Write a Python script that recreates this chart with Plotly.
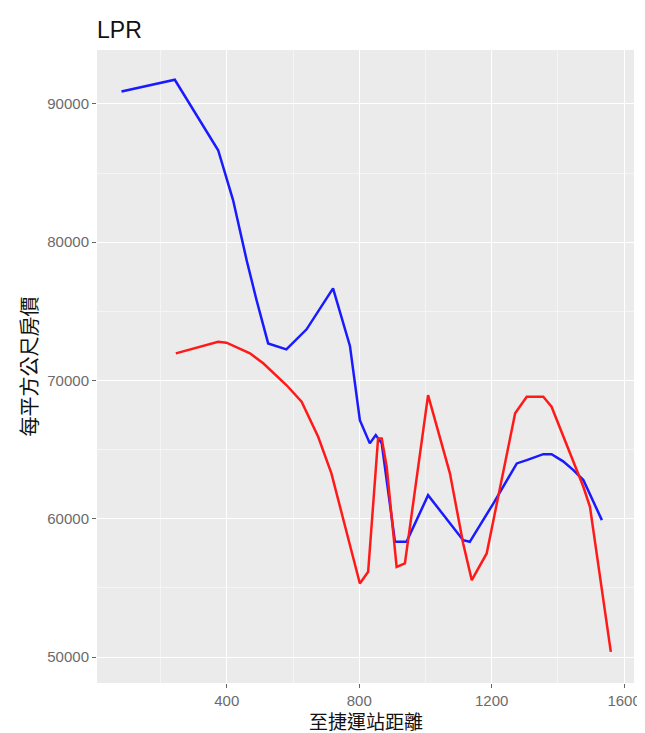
import plotly.graph_objects as go

# Blue series (distance, price)
blue_x = [82, 243, 374, 419, 460, 490, 525, 580, 641, 721, 772, 802, 832, 850, 868,
          908, 943, 1008, 1114, 1134, 1205, 1276, 1306, 1356, 1381, 1416, 1447, 1477, 1533]
blue_y = [90900, 91750, 86650, 83050, 78700, 75800, 72680, 72250, 73700, 76660, 72500,
          67130, 65450, 66050, 65450, 58330, 58330, 61700, 58450, 58330, 61100, 64000,
          64240, 64670, 64670, 64150, 63520, 62800, 59900]

# Red series
red_x = [246, 374, 399, 470, 510, 580, 626, 676, 716, 802, 827, 857, 868, 883, 913, 938,
         1008, 1074, 1114, 1140, 1185, 1271, 1306, 1356, 1381, 1477, 1497, 1560]
red_y = [71960, 72800, 72730, 71960, 71240, 69670, 68460, 65930, 63280, 55320, 56160,
         65810, 65810, 63760, 56520, 56770, 68940, 63280, 58210, 55560, 57490, 67620,
         68820, 68820, 68100, 62310, 60860, 50370]

x_ticks = [400, 800, 1200, 1600]
x_labels = ["400", "800", "1200", "1600"]
y_ticks = [50000, 60000, 70000, 80000, 90000]
y_labels = ["50000", "60000", "70000", "80000", "90000"]

fig = go.Figure()
fig.add_trace(go.Scatter(x=blue_x, y=blue_y, mode="lines",
                         line=dict(color="#1a1aff", width=2.5), showlegend=False))
fig.add_trace(go.Scatter(x=red_x, y=red_y, mode="lines",
                         line=dict(color="#ff1a1a", width=2.5), showlegend=False))

axis_common = dict(
    showgrid=True, gridcolor="white", gridwidth=1.3,
    zeroline=False, showline=False, automargin=False,
    ticks="outside", ticklen=4, tickwidth=1.2, tickcolor="#666666",
    tickfont=dict(family="Liberation Sans, Arial, sans-serif", size=15, color="#6b6b6b"),
)

# page has an 8px body margin, so figure is sized/offset accordingly
fig.update_layout(
    width=637, height=725,
    margin=dict(l=89, r=11, t=42, b=50, autoexpand=False),
    paper_bgcolor="white", plot_bgcolor="#EBEBEB",
    title=dict(text="LPR", x=89/637, xanchor="left", y=1-22/725, yanchor="middle",
               automargin=False,
               font=dict(family="Liberation Sans, Arial, sans-serif", size=23, color="#111111")),
    xaxis=dict(range=[8, 1630], tickvals=x_ticks, ticktext=x_labels,
               minor=dict(dtick=200, tick0=0, showgrid=True, gridcolor="#F5F5F5", gridwidth=0.7, ticks=""),
               **axis_common),
    yaxis=dict(range=[48120, 93900], tickvals=y_ticks, ticktext=y_labels,
               minor=dict(dtick=5000, tick0=0, showgrid=True, gridcolor="#F5F5F5", gridwidth=0.7, ticks=""),
               title=dict(text="每平方公尺房價", standoff=4,
                          font=dict(family="Noto Sans CJK TC, sans-serif", size=20, color="#111111")),
               **axis_common),
)

fig.add_annotation(text="至捷運站距離", xref="paper", yref="paper", x=0.5, y=0,
                   xanchor="center", yanchor="top", yshift=-22, showarrow=False,
                   font=dict(family="Noto Sans CJK TC, sans-serif", size=19, color="#111111"))

fig.write_html("out.html")
